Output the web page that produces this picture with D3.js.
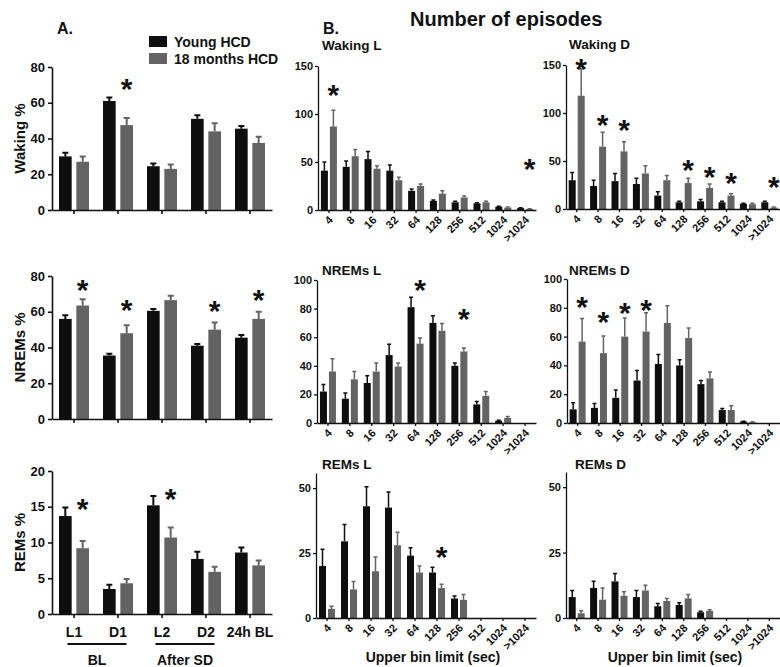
<!DOCTYPE html>
<html>
<head>
<meta charset="utf-8">
<script src="https://cdn.jsdelivr.net/npm/d3@7"></script>
<style>
    body { margin: 0; background: #fff; }
    svg text { font-family: "Liberation Sans", Arial, sans-serif; font-weight: bold; fill: #111; }
</style>
</head>
<body>
<svg id="chart" width="780" height="667"></svg>
<script>
// ---- panel A: % of time per period ----
const groups = ['L1', 'D1', 'L2', 'D2', '24h BL'];
const series = ['Young HCD', '18 months HCD'];

const wakeYoung = [30, 61, 24.5, 51, 45.5];
const wakeYoungErr = [2, 2, 1.5, 2, 1.5];
const wakeOld = [27, 47.5, 23, 44, 37.5];
const wakeOldErr = [3, 4, 2.5, 4.5, 3.5];
const wakeStars = [1];
const wakeStarAt = [71.6];

const nremYoung = [56, 35.5, 60.5, 41, 45.5];
const nremYoungErr = [2, 1, 1, 1, 1.5];
const nremOld = [63.5, 48, 66.5, 50, 56];
const nremOldErr = [3.5, 4.5, 2.5, 4, 4];
const nremStars = [0, 1, 3, 4];
const nremStarAt = [76, 65, 64.3, 70.5];

const remYoung = [13.7, 3.5, 15.2, 7.7, 8.6];
const remYoungErr = [1.2, 0.6, 1.3, 1, 0.7];
const remOld = [9.2, 4.3, 10.7, 5.9, 6.8];
const remOldErr = [1, 0.6, 1.4, 0.7, 0.7];
const remStars = [0, 2];
const remStarAt = [15.6, 17.1];

const periods = ['BL', 'After SD'];
const periodSpans = [[0, 1], [2, 3]];

// ---- panel B: number of episodes per duration bin ----
const bins = ['4', '8', '16', '32', '64', '128', '256', '512', '1024', '>1024'];

const wakeLYoung = [41, 45, 53, 41, 20, 9.5, 8, 7, 3.5, 2];
const wakeLYoungErr = [9, 6, 8, 6, 2, 1, 1, 0.5, 0.5, 0.3];
const wakeLOld = [87, 56, 43, 31, 25, 17, 13, 8, 2.5, 1];
const wakeLOldErr = [17, 7, 3, 3, 2, 3, 1.5, 1, 0.5, 0.3];
const wakeLStars = [0, 9];
const wakeLStarAt = [127, 50];

const wakeDYoung = [30, 24, 29, 26, 14, 7, 8, 7, 5.5, 7];
const wakeDYoungErr = [8, 6, 8, 6, 4, 1, 2, 1, 0.5, 1];
const wakeDOld = [118, 65, 60, 37, 30, 27, 22, 14, 5, 1.5];
const wakeDOldErr = [28, 15, 10, 8, 5, 5, 4, 2, 1, 0.5];
const wakeDStars = [0, 1, 2, 5, 6, 7, 9];
const wakeDStarAt = [153, 95, 90, 48, 41, 34, 30];

const nremLYoung = [22, 17, 28, 47.5, 81, 70, 40, 13, 1.5, 0];
const nremLYoungErr = [5, 4, 5, 7.5, 7, 5, 2, 2, 0.5, 0];
const nremLOld = [36, 30.5, 36, 39.5, 55.5, 64.5, 50, 19, 3.5, 0];
const nremLOldErr = [9, 5.5, 6, 2.5, 4, 5, 2.5, 3, 1, 0];
const nremLStars = [4, 6];
const nremLStarAt = [98, 77.5];

const nremDYoung = [9.5, 10.5, 17.5, 29.5, 41, 40, 27, 9, 1, 0];
const nremDYoungErr = [4.5, 3, 5.5, 7, 6.5, 4, 2.5, 1, 0.2, 0];
const nremDOld = [56.5, 48.5, 60, 63.5, 69.5, 59, 31, 9, 0.5, 0];
const nremDOldErr = [16, 12, 13, 13, 12, 7, 4.5, 3, 0.3, 0];
const nremDStars = [0, 1, 2, 3];
const nremDStarAt = [85.5, 75, 81, 83];

const remLYoung = [20, 29.5, 43, 42.5, 24, 17.5, 7.5, 0, 0, 0];
const remLYoungErr = [6.5, 6.5, 7.5, 6, 3, 2, 1, 0, 0, 0];
const remLOld = [3.5, 11, 18, 28, 17.5, 11.5, 7, 0, 0, 0];
const remLOldErr = [1, 3, 5.5, 5, 2.5, 1.5, 2, 0, 0, 0];
const remLStars = [5];
const remLStarAt = [26];

const remDYoung = [8, 11.5, 14, 8, 4.5, 5, 2.2, 0, 0, 0];
const remDYoungErr = [2.5, 2.5, 3, 2.5, 1, 0.8, 0.4, 0, 0, 0];
const remDOld = [1.8, 7, 8.5, 10.5, 6.5, 7.5, 2.7, 0, 0, 0];
const remDOldErr = [1, 4.5, 1.5, 2, 1, 1.5, 0.5, 0, 0, 0];

const colors = { young: '#0e0e0e', old: '#636363' };

const svg = d3.select('#chart');

// sizes for the two kinds of panels
const bigPanel = { half: 15, gap: 0.27, cap: 3, lw: 2, axisW: 1.6, yFont: 13, xFont: 14, tick: 4, yPad: 3 };
const smallPanel = { half: 8, gap: 0.22, cap: 2, lw: 1.5, axisW: 1.3, yFont: 11, xFont: 11, tick: 3, yPad: 2 };

function drawPanel(cfg)
{
    const st = cfg.style;
    const g = svg.append('g');

    const x = d3.scaleBand().domain(cfg.cats).range([cfg.x0, cfg.x1]);
    const y = d3.scaleLinear().domain([0, cfg.top]).range([cfg.base, cfg.yTop]);
    const sub = d3.scaleBand().domain(['young', 'old']).range([-st.half, st.half]).paddingInner(st.gap);

    const rows = cfg.cats.flatMap((c, i) => [
        { cat: c, s: 'young', v: cfg.young[i], e: cfg.youngErr[i] },
        { cat: c, s: 'old', v: cfg.old[i], e: cfg.oldErr[i] },
    ]);
    const left = d => x(d.cat) + x.bandwidth() / 2 + sub(d.s);
    const mid = d => left(d) + sub.bandwidth() / 2;

    // upper error whiskers
    g.append('g').selectAll('path')
        .data(rows.filter(d => d.e > 0))
        .join('path')
            .attr('d', d => `M${mid(d)},${y(d.v)}V${y(d.v + d.e)}M${mid(d) - st.cap},${y(d.v + d.e)}H${mid(d) + st.cap}`)
            .attr('stroke', d => colors[d.s])
            .attr('stroke-width', st.lw)
            .attr('fill', 'none');

    g.append('g').selectAll('rect')
        .data(rows.filter(d => d.v > 0))
        .join('rect')
            .attr('x', left)
            .attr('y', d => y(d.v))
            .attr('width', sub.bandwidth())
            .attr('height', d => y(0) - y(d.v))
            .attr('fill', d => colors[d.s]);

    // significance stars over the old group bar
    g.append('g').selectAll('text')
        .data(cfg.stars.map((idx, k) => ({ cat: cfg.cats[idx], s: 'old', at: cfg.starAt[k] })))
        .join('text')
            .attr('x', mid)
            .attr('y', d => y(d.at) + 17)
            .attr('text-anchor', 'middle')
            .style('font-size', '30px')
            .text('*');

    const yAxis = g.append('g')
        .attr('transform', `translate(${cfg.x0},0)`)
        .call(d3.axisLeft(y).tickValues(cfg.ticks).tickSize(st.tick).tickPadding(st.yPad).tickSizeOuter(0));
    yAxis.selectAll('text').style('font-size', st.yFont + 'px');

    const xAxis = g.append('g')
        .attr('transform', `translate(0,${cfg.base})`)
        .call(d3.axisBottom(x).tickSize(st.tick).tickSizeOuter(0).tickPadding(9)
            .tickFormat(cfg.xLabels ? null : ''));
    xAxis.selectAll('text').style('font-size', st.xFont + 'px');
    if(cfg.rotate)
        xAxis.selectAll('text')
            .attr('x', 0).attr('y', 0).attr('dy', '0.35em')
            .attr('text-anchor', 'end')
            .attr('transform', 'translate(2,8) rotate(-45)');

    [yAxis, xAxis].forEach(a => {
        a.selectAll('path, line').attr('stroke', '#111').attr('stroke-width', st.axisW);
        a.selectAll('text').attr('fill', '#111');
    });

    if(cfg.title)
        g.append('text').attr('x', cfg.titleX).attr('y', cfg.titleY).style('font-size', '13.5px').text(cfg.title);

    if(cfg.yLabel)
        g.append('text')
            .attr('transform', `translate(25,${(cfg.base + cfg.yTop) / 2}) rotate(-90)`)
            .attr('text-anchor', 'middle')
            .style('font-size', '15px')
            .text(cfg.yLabel);

    return x;
}

// ---- panel A ----
const aBase = { cats: groups, style: bigPanel, x0: 52, x1: 272, top: 80, ticks: [0, 20, 40, 60, 80] };

drawPanel({ ...aBase, base: 210, yTop: 67, yLabel: 'Waking %',
    young: wakeYoung, youngErr: wakeYoungErr, old: wakeOld, oldErr: wakeOldErr, stars: wakeStars, starAt: wakeStarAt });
drawPanel({ ...aBase, base: 419, yTop: 276, yLabel: 'NREMs %',
    young: nremYoung, youngErr: nremYoungErr, old: nremOld, oldErr: nremOldErr, stars: nremStars, starAt: nremStarAt });
const xA = drawPanel({ ...aBase, base: 614, yTop: 471, top: 20, ticks: [0, 5, 10, 15, 20], yLabel: 'REMs %', xLabels: true,
    young: remYoung, youngErr: remYoungErr, old: remOld, oldErr: remOldErr, stars: remStars, starAt: remStarAt });

// brackets under the condition labels
periods.forEach((p, i) => {
    const a = xA(groups[periodSpans[i][0]]) + xA.bandwidth() / 2 - 6.5;
    const b = xA(groups[periodSpans[i][1]]) + xA.bandwidth() / 2 + 8.5;
    svg.append('line').attr('x1', a).attr('x2', b).attr('y1', 644).attr('y2', 644)
        .attr('stroke', '#111').attr('stroke-width', 2);
    svg.append('text').attr('x', (a + b) / 2).attr('y', 665).attr('text-anchor', 'middle')
        .style('font-size', '14px').text(p);
});

// legend
const legend = svg.append('g').attr('transform', 'translate(149,36)');
series.forEach((s, i) => {
    legend.append('rect').attr('x', 0).attr('y', i * 17).attr('width', 18).attr('height', 11)
        .attr('fill', i ? colors.old : colors.young);
    legend.append('text').attr('x', 25).attr('y', i * 17 + 10.5).style('font-size', '14px').text(s);
});

// ---- panel B ----
const bBase = { cats: bins, style: smallPanel, rotate: true, xLabels: true };
const colL = { x0: 318, x1: 536, titleX: 322 };
const colR = { x0: 566, x1: 780, titleX: 569 };

drawPanel({ ...bBase, ...colL, base: 210, yTop: 66, top: 150, ticks: [0, 50, 100, 150], title: 'Waking L', titleY: 50,
    young: wakeLYoung, youngErr: wakeLYoungErr, old: wakeLOld, oldErr: wakeLOldErr, stars: wakeLStars, starAt: wakeLStarAt });
drawPanel({ ...bBase, ...colR, base: 209, yTop: 65, top: 150, ticks: [0, 50, 100, 150], title: 'Waking D', titleY: 49,
    young: wakeDYoung, youngErr: wakeDYoungErr, old: wakeDOld, oldErr: wakeDOldErr, stars: wakeDStars, starAt: wakeDStarAt });
drawPanel({ ...bBase, ...colL, x0: 317, base: 423, yTop: 280, top: 100, ticks: [0, 20, 40, 60, 80, 100], title: 'NREMs L', titleY: 275,
    young: nremLYoung, youngErr: nremLYoungErr, old: nremLOld, oldErr: nremLOldErr, stars: nremLStars, starAt: nremLStarAt });
drawPanel({ ...bBase, ...colR, x0: 567, base: 423, yTop: 279, top: 100, ticks: [0, 20, 40, 60, 80, 100], title: 'NREMs D', titleY: 275,
    young: nremDYoung, youngErr: nremDYoungErr, old: nremDOld, oldErr: nremDOldErr, stars: nremDStars, starAt: nremDStarAt });
drawPanel({ ...bBase, ...colL, x0: 316, base: 618, yTop: 473, top: 55.8, ticks: [0, 25, 50], title: 'REMs L', titleY: 469,
    young: remLYoung, youngErr: remLYoungErr, old: remLOld, oldErr: remLOldErr, stars: remLStars, starAt: remLStarAt });
drawPanel({ ...bBase, ...colR, base: 618, yTop: 472, top: 55.8, ticks: [0, 25, 50], title: 'REMs D', titleY: 469, titleX: 575,
    young: remDYoung, youngErr: remDYoungErr, old: remDOld, oldErr: remDOldErr, stars: [], starAt: [] });

[433, 675].forEach(cx => {
    svg.append('text').attr('x', cx).attr('y', 662).attr('text-anchor', 'middle')
        .style('font-size', '14px').text('Upper bin limit (sec)');
});

// headings
svg.append('text').attr('x', 57).attr('y', 34).style('font-size', '16px').text('A.');
svg.append('text').attr('x', 323).attr('y', 34).style('font-size', '16px').text('B.');
svg.append('text').attr('x', 410).attr('y', 26).style('font-size', '20px').text('Number of episodes');
</script>
</body>
</html>
